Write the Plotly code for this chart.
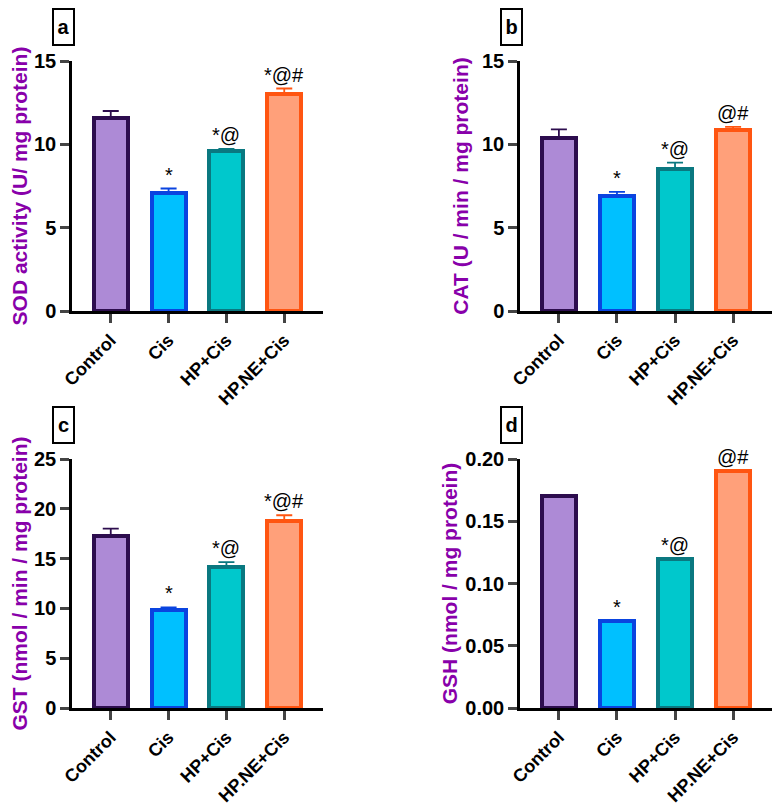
import plotly.graph_objects as go

groups = ["Control", "Cis", "HP+Cis", "HP.NE+Cis"]
fills = ["#ad8ad6", "#00c0ff", "#00c8cc", "#ffa07a"]
edges = ["#2d0d4e", "#0a44e0", "#0a7880", "#ff5511"]

sod_mean = [11.6, 7.1, 9.6, 13.0]
sod_err = [0.4, 0.25, 0.12, 0.35]
sod_sig = ["", "*", "*@", "*@#"]

cat_mean = [10.4, 6.9, 8.5, 10.85]
cat_err = [0.5, 0.25, 0.4, 0.2]
cat_sig = ["", "*", "*@", "@#"]

gst_mean = [17.3, 9.8, 14.2, 18.75]
gst_err = [0.7, 0.3, 0.45, 0.6]
gst_sig = ["", "*", "*@", "*@#"]

gsh_mean = [0.17, 0.07, 0.12, 0.19]
gsh_sig = ["", "*", "*@", "@#"]

font = "Arial, Liberation Sans, sans-serif"
purple = "#8800aa"

panels = [
    # letter, means, errors, sig, y title, y max, tick step, tick format
    ("a", sod_mean, sod_err, sod_sig, "SOD activity (U/ mg protein)", 15, 5, "d"),
    ("b", cat_mean, cat_err, cat_sig, "CAT (U / min / mg protein)", 15, 5, "d"),
    ("c", gst_mean, gst_err, gst_sig, "GST (nmol / min / mg protein)", 25, 5, "d"),
    ("d", gsh_mean, None, gsh_sig, "GSH (nmol / mg protein)", 0.2, 0.05, ".2f"),
]

# pixel boxes of the plot areas (left, right, top, bottom) as seen on the page;
# the page body adds an 8px margin, so the figure is shrunk to fit the window
OFF = 8
W, H = 784 - OFF, 811 - OFF
boxes = [(72, 323, 61, 311), (520, 772, 61, 311),
         (72, 323, 459, 708), (520, 772, 459, 708)]
standoffs = [6, 8, 6, 2]


def px_x(v):
    return (v - OFF) / W


def px_y(v):
    return 1 - (v - OFF) / H


fig = go.Figure()
annotations = []

for i, (letter, means, errs, sig, ytitle, ymax, dtick, fmt) in enumerate(panels):
    n = "" if i == 0 else str(i + 1)
    xa, ya = "x" + n, "y" + n
    for j, g in enumerate(groups):
        err = None
        if errs is not None:
            err = dict(type="data", symmetric=False, array=[errs[j]], arrayminus=[0],
                       color=edges[j], thickness=1.8, width=8)
        fig.add_trace(go.Bar(
            x=[j], y=[means[j]], width=0.59, xaxis=xa, yaxis=ya,
            marker=dict(color=fills[j], line=dict(color=edges[j], width=4)),
            error_y=err, showlegend=False,
        ))
        if sig[j]:
            top = means[j] + (errs[j] if errs is not None else 0)
            annotations.append(dict(
                x=j, y=top, xref=xa, yref=ya, text=sig[j], showarrow=False,
                yanchor="bottom", yshift=1,
                font=dict(family=font, size=20, color="black"),
            ))

    left, right, top_px, bot_px = boxes[i]
    fig.layout["xaxis" + n] = dict(
        domain=[px_x(left), px_x(right)], anchor=ya, range=[-0.67, 3.67],
        tickmode="array", tickvals=list(range(4)), ticktext=groups,
        tickangle=-45, ticks="outside", ticklen=9, tickwidth=2.5,
        showline=True, linewidth=2.5, linecolor="black", showgrid=False,
        zeroline=False, automargin=False,
        tickfont=dict(family=font, size=18, color="black", weight="bold"),
    )
    fig.layout["yaxis" + n] = dict(
        domain=[px_y(bot_px), px_y(top_px)], anchor=xa, range=[0, ymax],
        dtick=dtick, tick0=0, tickformat=fmt, ticks="outside", ticklen=9,
        tickwidth=2.5, showline=True, linewidth=2.5, linecolor="black",
        showgrid=False, zeroline=False, automargin=False,
        tickfont=dict(family=font, size=20, color="black", weight="bold"),
        title=dict(text="<b>%s</b>" % ytitle, standoff=standoffs[i],
                   font=dict(family=font, size=21, color=purple)),
    )

    # boxed panel letter
    annotations.append(dict(
        x=px_x(left - 9), y=px_y(top_px - 34), xref="paper", yref="paper",
        text="<b>%s</b>" % letter, showarrow=False, xanchor="center", yanchor="middle",
        width=19, height=34, bordercolor="black", borderwidth=2, borderpad=0,
        font=dict(family=font, size=20, color="black"),
    ))

fig.update_layout(
    width=W, height=H, margin=dict(l=0, r=0, t=0, b=0),
    plot_bgcolor="white", paper_bgcolor="white",
    annotations=annotations, bargap=0,
)

fig.write_html("out.html")
